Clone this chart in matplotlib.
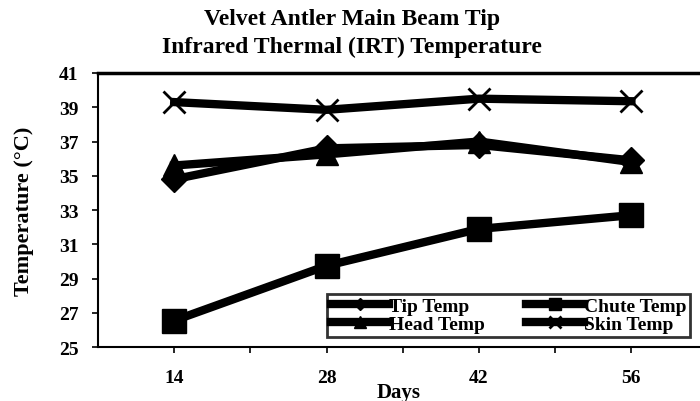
import matplotlib
matplotlib.use("Agg")
from matplotlib import pyplot as plt

days = [14, 28, 42, 56]
tip_temp = [34.8, 36.6, 36.8, 35.9]
chute_temp = [26.55, 29.75, 31.9, 32.7]
head_temp = [35.6, 36.25, 37.0, 35.8]
skin_temp = [39.3, 38.85, 39.5, 39.35]

y_ticks = [25, 27, 29, 31, 33, 35, 37, 39, 41]
x_labels = ["14", "28", "42", "56"]

plt.rcParams["font.family"] = ["Liberation Serif", "DejaVu Serif"]
plt.rcParams["font.weight"] = "bold"

fig = plt.figure(figsize=(7, 4.02), dpi=100)
ax = fig.add_axes([0.14, 0.134, 0.86, 0.682])

lw = 6
ax.plot(days, tip_temp, color="black", lw=lw, marker="D", markersize=13,
        label="Tip Temp")
ax.plot(days, chute_temp, color="black", lw=lw, marker="s", markersize=17,
        label="Chute Temp")
ax.plot(days, head_temp, color="black", lw=lw, marker="^", markersize=16,
        label="Head Temp")
ax.plot(days, skin_temp, color="black", lw=lw, marker="x", markersize=16,
        markeredgewidth=2, label="Skin Temp")

ax.set_xlim(7, 62.3)
ax.set_ylim(25, 41)
ax.set_yticks(y_ticks)
ax.set_xticks(days)
ax.set_xticklabels(x_labels)
ax.set_xticks([21, 35, 49], minor=True)
ax.tick_params(axis="both", which="both", direction="out", length=4,
               width=1.2, labelsize=14)
ax.tick_params(axis="x", pad=12)
ax.tick_params(axis="y", pad=10)

for side in ["left", "bottom"]:
    ax.spines[side].set_linewidth(1.5)
ax.spines["top"].set_linewidth(2.5)
ax.spines["right"].set_visible(False)

ax.set_xlabel("Days", fontsize=15, fontweight="bold", labelpad=-3)
ax.set_ylabel("Temperature (°C)", fontsize=16, fontweight="bold", labelpad=18)
fig.suptitle("Velvet Antler Main Beam Tip\nInfrared Thermal (IRT) Temperature",
             fontsize=17, fontweight="bold", x=0.503, y=0.978, linespacing=1.4)

handles, labels = ax.get_legend_handles_labels()
order = [0, 2, 1, 3]
leg = fig.legend([handles[i] for i in order], [labels[i] for i in order],
                 ncol=2, loc="upper left", bbox_to_anchor=(0.453, 0.291),
                 frameon=True, fancybox=False, fontsize=14,
                 handlelength=3.0, handletextpad=0.0, columnspacing=2.1,
                 labelspacing=0.0, borderpad=0.2, markerscale=0.5)
leg.get_frame().set_edgecolor("black")
leg.get_frame().set_linewidth(2)

plt.savefig("out.png", dpi=100)
plt.close()
